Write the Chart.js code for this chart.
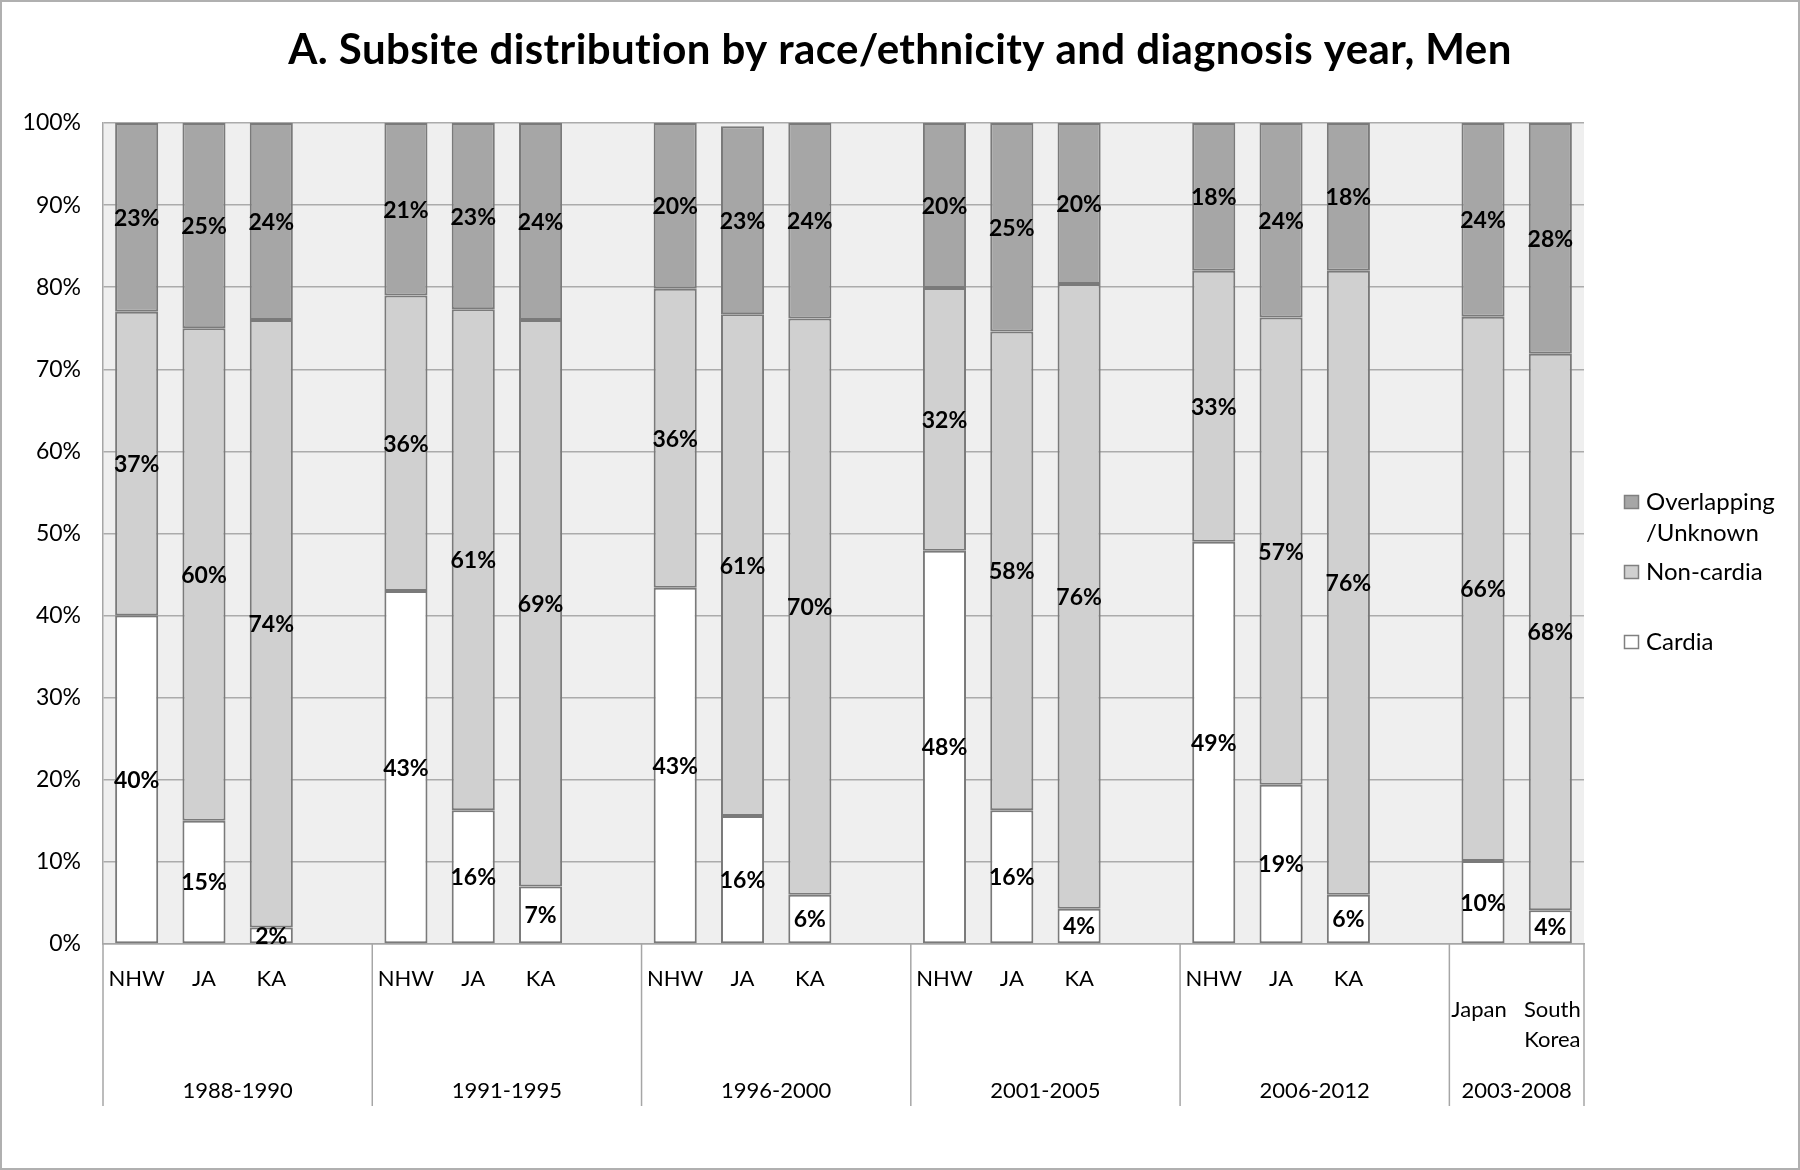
<!DOCTYPE html>
<html>
<head>
<meta charset="utf-8">
<script src="https://cdn.jsdelivr.net/npm/chart.js@4.4.1/dist/chart.umd.min.js"></script>
<style>
  html, body { margin: 0; padding: 0; background: #fff; }
  #wrap { width: 1800px; height: 1170px; }
</style>
</head>
<body>
<div id="wrap"><canvas id="chart" width="1800" height="1170"></canvas></div>
<script>
// categories: 3 groups per period + a blank spacer slot
var subgroups = ['NHW','JA','KA','', 'NHW','JA','KA','', 'NHW','JA','KA','',
                 'NHW','JA','KA','', 'NHW','JA','KA','', 'Japan','South Korea'];
var periods = ['1988-1990','1991-1995','1996-2000','2001-2005','2006-2012','2003-2008'];
var periodSpans = [4, 4, 4, 4, 4, 2];

// series values (% of cases)
var cardia      = [40, 15,   2,   null, 43, 16.3, 7,    null, 43.4, 15.6, 6,    null,
                   47.9, 16.3, 4.3, null, 49, 19.4, 6,  null, 10.1, 4.1];
var nonCardia   = [37, 60,   74,  null, 36, 61,   69,   null, 36.4, 61.1, 70.2, null,
                   32, 58.3, 76.1, null, 33, 56.9, 76, null, 66.3, 67.8];
var overlapping = [23, 25,   24,  null, 21, 22.7, 24,   null, 20.2, 22.9, 23.8, null,
                   20.1, 25.4, 19.6, null, 18, 23.7, 18, null, 23.6, 28.1];

var seriesNames = ['Cardia', 'Non-cardia', 'Overlapping\n/Unknown'];
var seriesColors = ['#ffffff', '#d0d0d0', '#a6a6a6'];
var titleText = 'A. Subsite distribution by race/ethnicity and diagnosis year, Men';

var FONT = 'Lato, "Open Sans", sans-serif';

// plot area fill, title, outer border
var bgPlugin = {
  id: 'bg',
  beforeDraw: function(chart) {
    var ctx = chart.ctx, a = chart.chartArea;
    ctx.save();
    ctx.fillStyle = '#fff';
    ctx.fillRect(0, 0, chart.width, chart.height);
    ctx.fillStyle = '#efefef';
    ctx.fillRect(a.left, a.top, a.right - a.left, a.bottom - a.top);
    ctx.restore();
  },
  afterDraw: function(chart) {
    var ctx = chart.ctx;
    ctx.save();
    ctx.fillStyle = '#000';
    ctx.font = 'bold 42px ' + FONT;
    ctx.letterSpacing = '0.4px'; // also stops the "ti" ligature
    ctx.textAlign = 'center';
    ctx.textBaseline = 'middle';
    ctx.fillText(titleText, 900, 50);
    ctx.letterSpacing = '0px';
    ctx.strokeStyle = '#b0b0b0';
    ctx.lineWidth = 2;
    ctx.strokeRect(1, 1, chart.width - 2, chart.height - 2);
    ctx.restore();
  }
};

// percent labels centred in each segment
var segLabels = {
  id: 'segLabels',
  afterDatasetsDraw: function(chart) {
    var ctx = chart.ctx;
    ctx.save();
    ctx.font = 'bold 23px ' + FONT;
    ctx.fillStyle = '#000';
    ctx.textAlign = 'center';
    ctx.textBaseline = 'middle';
    chart.data.datasets.forEach(function(ds, i) {
      chart.getDatasetMeta(i).data.forEach(function(bar, j) {
        var v = ds.data[j];
        if (v == null) return;
        ctx.fillText(Math.round(v) + '%', bar.x, (bar.y + bar.base) / 2 + 1);
      });
    });
    ctx.restore();
  }
};

// two-level category axis drawn under the plot
var groupAxis = {
  id: 'groupAxis',
  afterDraw: function(chart) {
    var ctx = chart.ctx, x = chart.scales.x, a = chart.chartArea;
    var slot = (a.right - a.left) / subgroups.length;
    var bottom = a.bottom + 162;
    ctx.save();
    ctx.strokeStyle = '#a6a6a6';
    ctx.lineWidth = 1.5;
    ctx.fillStyle = '#000';
    ctx.textAlign = 'center';
    ctx.textBaseline = 'middle';
    ctx.font = '22px ' + FONT;
    var start = 0;
    for (var g = 0; g <= periods.length; g++) {
      var px = a.left + start * slot;
      ctx.beginPath();
      ctx.moveTo(px, a.bottom);
      ctx.lineTo(px, bottom);
      ctx.stroke();
      if (g < periods.length) {
        var end = start + periodSpans[g];
        ctx.fillText(periods[g], (px + a.left + end * slot) / 2, a.bottom + 147);
        var wraps = false;
        for (var k = start; k < end; k++) {
          if (ctx.measureText(subgroups[k]).width > slot) wraps = true;
        }
        for (var k = start; k < end; k++) {
          var cx = x.getPixelForValue(k);
          var words = ctx.measureText(subgroups[k]).width > slot ? subgroups[k].split(' ') : [subgroups[k]];
          var y0 = wraps ? a.bottom + 66 : a.bottom + 35;
          if (wraps) cx += (k === start ? -4 : 2);
          words.forEach(function(w, n) { ctx.fillText(w, cx, y0 + n * 30); });
        }
        start = end;
      }
    }
    ctx.restore();
  }
};

// legend on the right
var sideLegend = {
  id: 'sideLegend',
  afterDraw: function(chart) {
    var ctx = chart.ctx;
    var rows = [{ i: 2, y: 502 }, { i: 1, y: 572 }, { i: 0, y: 642 }];
    ctx.save();
    ctx.font = '24px ' + FONT;
    ctx.textBaseline = 'middle';
    ctx.textAlign = 'left';
    rows.forEach(function(r) {
      var ds = chart.data.datasets[r.i];
      ctx.fillStyle = ds.backgroundColor;
      ctx.fillRect(1624, r.y - 7, 15, 14);
      ctx.strokeStyle = '#808080';
      ctx.lineWidth = 1.5;
      ctx.strokeRect(1624.5, r.y - 6.5, 14, 13);
      ctx.fillStyle = '#000';
      ds.label.split('\n').forEach(function(t, n) { ctx.fillText(t, 1646, r.y + n * 31); });
    });
    ctx.restore();
  }
};

var values = [cardia, nonCardia, overlapping];
var datasets = values.map(function(v, i) {
  return {
    label: seriesNames[i],
    data: v,
    backgroundColor: seriesColors[i],
    borderColor: '#7a7a7a',
    borderWidth: 2,
    borderSkipped: false,
    barPercentage: 0.64,
    categoryPercentage: 1.0
  };
});

new Chart(document.getElementById('chart'), {
  type: 'bar',
  data: { labels: subgroups, datasets: datasets },
  options: {
    responsive: false,
    animation: false,
    layout: { padding: { left: 0, right: 216, top: 123, bottom: 0 } },
    plugins: {
      legend: { display: false },
      tooltip: { enabled: false },
      title: { display: false }
    },
    scales: {
      x: {
        stacked: true,
        ticks: { display: false },
        grid: { display: false },
        border: { display: true, color: '#a6a6a6', width: 1.5 },
        afterFit: function(s) { s.height = 226; }
      },
      y: {
        stacked: true,
        min: 0,
        max: 100,
        ticks: {
          stepSize: 10,
          padding: 22,
          color: '#000',
          font: { family: FONT, size: 23 },
          callback: function(v) { return v + '%'; }
        },
        grid: { color: '#ababab', lineWidth: 1.5, drawTicks: false },
        border: { display: true, color: '#a6a6a6', width: 1.5 },
        afterFit: function(s) { s.width = 103; }
      }
    }
  },
  plugins: [bgPlugin, segLabels, groupAxis, sideLegend]
});
</script>
</body>
</html>
